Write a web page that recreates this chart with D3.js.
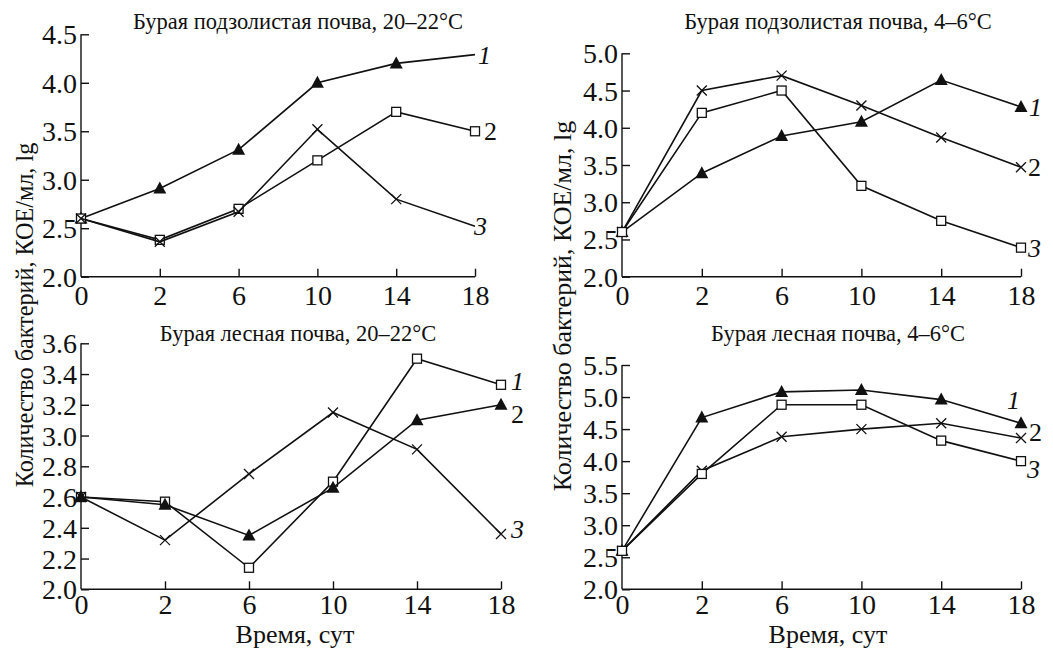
<!DOCTYPE html>
<html><head><meta charset="utf-8">
<script src="https://cdn.jsdelivr.net/npm/d3@7"></script>
<style>body{margin:0;background:#fff}svg{display:block}text{font-family:"Liberation Serif","Times New Roman",serif;fill:#111}</style>
</head><body>
<svg id="c" width="1053" height="650"></svg>
<script>
const days = ["0","2","6","10","14","18"];
const titles = ["Бурая подзолистая почва, 20–22°C","Бурая подзолистая почва, 4–6°C","Бурая лесная почва, 20–22°C","Бурая лесная почва, 4–6°C"];
const yTitle = "Количество бактерий, КОЕ/мл, lg";
const xTitle = "Время, сут";
// panel 1
const p1Tri = [2.6, 2.91, 3.31, 4.0, 4.2, 4.29];
const p1Sq  = [2.6, 2.38, 2.7, 3.2, 3.7, 3.5];
const p1X   = [2.6, 2.36, 2.67, 3.52, 2.8, 2.52];
const p1Ticks = [2.0, 2.5, 3.0, 3.5, 4.0, 4.5];
// panel 2
const p2Tri = [2.6, 3.39, 3.89, 4.08, 4.64, 4.28];
const p2X   = [2.6, 4.5, 4.7, 4.3, 3.87, 3.47];
const p2Sq  = [2.6, 4.2, 4.5, 3.22, 2.75, 2.39];
const p2Ticks = [2.0, 2.5, 3.0, 3.5, 4.0, 4.5, 5.0];
// panel 3
const p3Sq  = [2.6, 2.57, 2.14, 2.7, 3.5, 3.33];
const p3Tri = [2.6, 2.55, 2.35, 2.66, 3.1, 3.2];
const p3X   = [2.6, 2.32, 2.75, 3.15, 2.91, 2.36];
const p3Ticks = [2.0, 2.2, 2.4, 2.6, 2.8, 3.0, 3.2, 3.4, 3.6];
// panel 4
const p4Tri = [2.6, 4.68, 5.08, 5.11, 4.96, 4.59];
const p4X   = [2.6, 3.85, 4.38, 4.5, 4.59, 4.36];
const p4Sq  = [2.6, 3.8, 4.88, 4.88, 4.32, 4.0];
const p4Ticks = [2.0, 2.5, 3.0, 3.5, 4.0, 4.5, 5.0, 5.5];

const panels = [
  {title: titles[0], ticks: p1Ticks, x0: 81, x1: 475, yb: 276.7, yt: 34.3, tx: 298, ty: 29, xdy: "0.78em",
   series: [
     {v: p1Tri, m: "tri", label: "1", it: true, lastMarker: false, ldx: 3, ldy: 0},
     {v: p1Sq,  m: "sq",  label: "2", it: false, lastMarker: true, ldx: 9, ldy: 0},
     {v: p1X,   m: "x",   label: "3", it: true, lastMarker: false, ldx: -1, ldy: 0}]},
  {title: titles[1], ticks: p2Ticks, x0: 622, x1: 1021, yb: 276.7, yt: 53.3, tx: 838, ty: 29, xdy: "0.78em",
   series: [
     {v: p2Tri, m: "tri", label: "1", it: true, lastMarker: true, ldx: 8, ldy: 0},
     {v: p2X,   m: "x",   label: "2", it: false, lastMarker: true, ldx: 7, ldy: 0},
     {v: p2Sq,  m: "sq",  label: "3", it: true, lastMarker: true, ldx: 7, ldy: 0}]},
  {title: titles[2], ticks: p3Ticks, x0: 81, x1: 501, yb: 589.3, yt: 343.3, tx: 298, ty: 341, xdy: "0.66em",
   series: [
     {v: p3Sq,  m: "sq",  label: "1", it: true, lastMarker: true, ldx: 10, ldy: -4},
     {v: p3Tri, m: "tri", label: "2", it: false, lastMarker: true, ldx: 10, ldy: 9},
     {v: p3X,   m: "x",   label: "3", it: true, lastMarker: true, ldx: 10, ldy: -5}]},
  {title: titles[3], ticks: p4Ticks, x0: 622, x1: 1021, yb: 589.3, yt: 365, tx: 838, ty: 341, xdy: "0.66em",
   series: [
     {v: p4Tri, m: "tri", label: "1", it: true, lastMarker: true, ldx: -14, ldy: -23},
     {v: p4X,   m: "x",   label: "2", it: false, lastMarker: true, ldx: 8, ldy: -6},
     {v: p4Sq,  m: "sq",  label: "3", it: true, lastMarker: true, ldx: 6, ldy: 8}]}
];

const svg = d3.select("#c");
const TICKFS = 28;

panels.forEach((p, i) => {
  const g = svg.append("g");
  const x = d3.scalePoint().domain(days).range([p.x0, p.x1]);
  const y = d3.scaleLinear().domain([p.ticks[0], p.ticks[p.ticks.length-1]]).range([p.yb, p.yt]);

  const xa = g.append("g").attr("transform", `translate(0,${p.yb})`)
    .call(d3.axisBottom(x).tickSize(-8).tickPadding(6));
  const ya = g.append("g").attr("transform", `translate(${p.x0},0)`)
    .call(d3.axisLeft(y).tickValues(p.ticks).tickFormat(d3.format(".1f")).tickSize(-8).tickPadding(4));
  [xa, ya].forEach(a => {
    a.select(".domain").attr("stroke", "#111").attr("stroke-width", 1.4);
    a.selectAll(".tick line").attr("stroke", "#111").attr("stroke-width", 1.4);
    a.selectAll(".tick text").attr("font-size", TICKFS).attr("fill", "#111")
      .style("font-family", "'Liberation Serif', serif");
  });
  xa.select(".domain").attr("d", `M${p.x0},0H${p.x1}`);
  ya.select(".domain").attr("d", `M0,${p.yb}V${p.yt}`);
  xa.selectAll(".tick text").attr("dy", p.xdy);
  ya.selectAll(".tick text").attr("dy", "0.34em");
  xa.selectAll(".tick").filter(d => d === "0").select("line").remove();

  g.append("text").attr("x", p.tx).attr("y", p.ty).attr("text-anchor", "middle")
    .attr("font-size", 22.5).text(p.title);

  const line = d3.line().x((d, j) => x(days[j])).y(d => y(d));
  p.series.forEach(s => {
    g.append("path").attr("d", line(s.v)).attr("fill", "none")
      .attr("stroke", "#111").attr("stroke-width", 1.6);
    const pts = s.v.map((v, j) => ({x: x(days[j]), y: y(v), j}))
      .filter(d => s.lastMarker || d.j < days.length - 1);
    pts.forEach(d => {
      if (s.m === "tri") {
        g.append("path").attr("d", `M${d.x},${d.y-7}L${d.x+6.5},${d.y+5}L${d.x-6.5},${d.y+5}Z`)
          .attr("fill", "#111");
      } else if (s.m === "sq") {
        g.append("rect").attr("x", d.x-4.5).attr("y", d.y-4.5).attr("width", 9).attr("height", 9)
          .attr("fill", "#fff").attr("stroke", "#111").attr("stroke-width", 1.3);
      } else {
        g.append("path").attr("d", `M${d.x-5},${d.y-5}L${d.x+5},${d.y+5}M${d.x-5},${d.y+5}L${d.x+5},${d.y-5}`)
          .attr("stroke", "#111").attr("stroke-width", 1.3);
      }
    });
    const lx = x(days[days.length-1]) + s.ldx;
    const ly = y(s.v[s.v.length-1]) + s.ldy;
    g.append("text").attr("x", lx).attr("y", ly).attr("dy", "0.35em")
      .attr("font-size", 26).attr("font-style", s.it ? "italic" : "normal").text(s.label);
  });
});

svg.append("text").attr("transform", "translate(33,315) rotate(-90)").attr("text-anchor", "middle")
  .attr("font-size", 24.2).text(yTitle);
svg.append("text").attr("transform", "translate(571,306) rotate(-90)").attr("text-anchor", "middle")
  .attr("font-size", 26).text(yTitle);
svg.append("text").attr("x", 295).attr("y", 643).attr("text-anchor", "middle").attr("font-size", 26).text(xTitle);
svg.append("text").attr("x", 828).attr("y", 643).attr("text-anchor", "middle").attr("font-size", 26).text(xTitle);
</script>
</body></html>
